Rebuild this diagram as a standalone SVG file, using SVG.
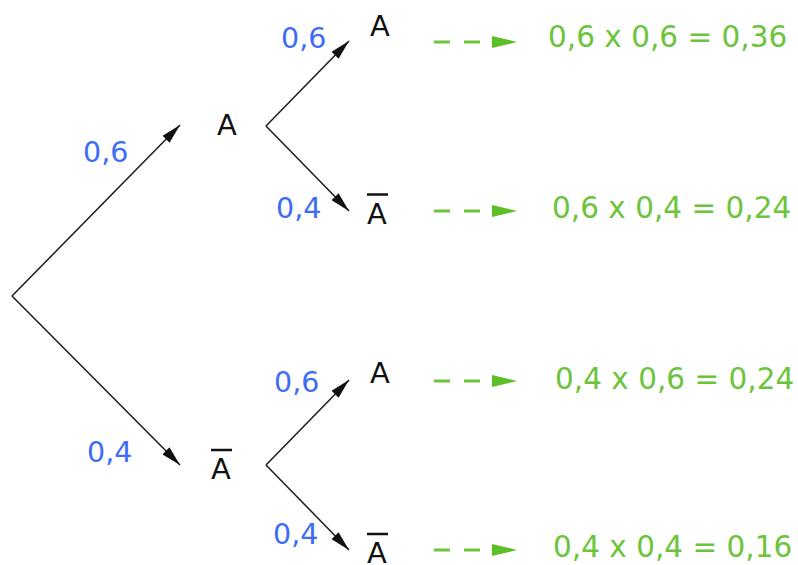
<svg xmlns="http://www.w3.org/2000/svg" width="798" height="565" viewBox="0 0 798 565">
<style>
.edge{stroke:#1a1a1a;stroke-width:1.5;fill:none;marker-end:url(#ah)}
.node{font-family:"DejaVu Sans",sans-serif;font-size:29px;fill:#111}
.bar{stroke:#111;stroke-width:2.5}
.p{font-family:"DejaVu Sans",sans-serif;font-size:28.5px;fill:#3d6cf5}
.res{font-family:"DejaVu Sans",sans-serif;font-size:29.5px;fill:#6cc43c}
.dash{stroke:#6cc43c;stroke-width:3;stroke-dasharray:16 14;fill:none}
.head{fill:#5cbf25}
</style>
<defs>
<marker id="ah" viewBox="0 0 20 10" refX="20" refY="5" markerWidth="20" markerHeight="10" markerUnits="userSpaceOnUse" orient="auto">
<path d="M0,0 L20,5 L0,10 Z" fill="#111"/>
</marker>
</defs>
<g id="connectors">
<line class="edge" x1="12" y1="296" x2="180" y2="125"/>
<line class="edge" x1="12" y1="296" x2="180" y2="465"/>
<line class="edge" x1="266" y1="126" x2="349" y2="41"/>
<line class="edge" x1="266" y1="126" x2="349" y2="211"/>
<line class="edge" x1="266" y1="465" x2="349" y2="380"/>
<line class="edge" x1="266" y1="465" x2="349" y2="550"/>
<line class="dash" x1="434" y1="42" x2="480" y2="42"/>
<polygon class="head" points="492,36 517,42 492,48"/>
<line class="dash" x1="434" y1="211" x2="480" y2="211"/>
<polygon class="head" points="492,205 517,211 492,217"/>
<line class="dash" x1="434" y1="381" x2="480" y2="381"/>
<polygon class="head" points="492,375 517,381 492,387"/>
<line class="dash" x1="434" y1="550" x2="480" y2="550"/>
<polygon class="head" points="492,544 517,550 492,556"/>
</g>
<g id="labels">
<text class="p" x="83" y="162">0,6</text>
<text class="p" x="87" y="462">0,4</text>
<text class="p" x="281" y="48">0,6</text>
<text class="p" x="276" y="218">0,4</text>
<text class="p" x="274" y="392">0,6</text>
<text class="p" x="273" y="544">0,4</text>
</g>
<g id="n-A1"><text class="node" x="217" y="135">A</text></g>
<g id="n-Abar1"><text class="node" x="211" y="479">A</text><line class="bar" x1="211" y1="450" x2="232" y2="450"/></g>
<g id="n-AA"><text class="node" x="370" y="36">A</text></g>
<g id="n-AAbar"><text class="node" x="367" y="224">A</text><line class="bar" x1="367" y1="194.5" x2="388" y2="194.5"/></g>
<g id="n-AbarA"><text class="node" x="370" y="383">A</text></g>
<g id="n-AbarAbar"><text class="node" x="367" y="563">A</text><line class="bar" x1="367" y1="534" x2="388" y2="534"/></g>
<g id="results">
<text class="res" x="548" y="47">0,6 x 0,6 = 0,36</text>
<text class="res" x="552" y="218">0,6 x 0,4 = 0,24</text>
<text class="res" x="555" y="389">0,4 x 0,6 = 0,24</text>
<text class="res" x="553" y="557">0,4 x 0,4 = 0,16</text>
</g>
</svg>
